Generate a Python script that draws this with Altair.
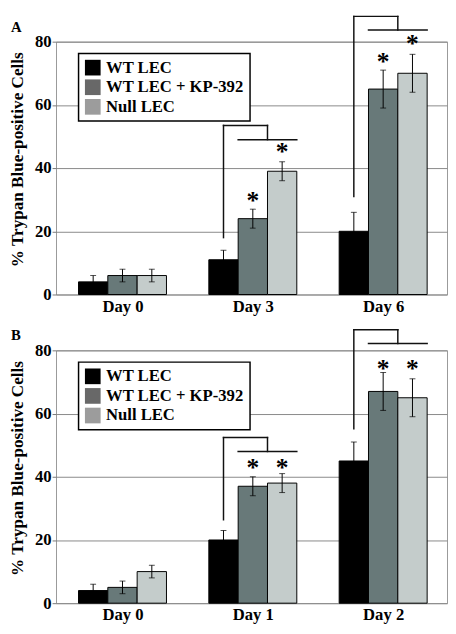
import altair as alt
import pandas as pd

SERIES = ["WT LEC", "WT LEC + KP-392", "Null LEC"]
BAR_COLORS = ["#000000", "#687979", "#c4cccb"]
LEGEND_COLORS = ["#000000", "#686868", "#9c9c9c"]

# ---- Panel A ----
days_a = ["Day 0", "Day 3", "Day 6"]
wt_a = [4, 11, 20]
kp_a = [6, 24, 65]
null_a = [6, 39, 70]
wt_err_a = [2, 3, 6]
kp_err_a = [2, 3, 6]
null_err_a = [2, 3, 6]
star_day_a = [1, 1, 2, 2]
star_series_a = [1, 2, 1, 2]
star_y_a = [31, 46.5, 75, 80.5]
bracket_day_a = [1, 2]
bracket_low_a = [18, 31]
bracket_top_a = [53.5, 88]
bracket_drop_a = [49, 83.7]

# ---- Panel B ----
days_b = ["Day 0", "Day 1", "Day 2"]
wt_b = [4, 20, 45]
kp_b = [5, 37, 67]
null_b = [10, 38, 65]
wt_err_b = [2, 3, 6]
kp_err_b = [2, 3, 6]
null_err_b = [2, 3, 6]
star_day_b = [1, 1, 2, 2]
star_series_b = [1, 2, 1, 2]
star_y_b = [44, 44, 75.5, 75.5]
bracket_day_b = [1, 2]
bracket_low_b = [26.4, 55.2]
bracket_top_b = [52.4, 86.5]
bracket_drop_b = [48, 82.2]

W = 0.225  # bar width in group units
FONT = "Liberation Serif"
H = 258
WIDTH = 399
XDOM = [-0.51, 2.49]


def panel(letter, letter_y, days, vals, errs, star_day, star_series, star_y,
          b_day, b_low, b_top, b_drop):
    rows = []
    for k, s in enumerate(SERIES):
        for g in range(len(days)):
            c = g + (k - 1) * W
            v = vals[k][g]
            e = errs[k][g]
            rows.append(dict(series=s, bar_series=s, g=g, xc=c, xl=c - W / 2, xr=c + W / 2,
                             v=v, base=0, lo=v - e, hi=v + e))
    df = pd.DataFrame(rows)

    stars = pd.DataFrame(dict(
        x=[g + (k - 1) * W for g, k in zip(star_day, star_series)],
        y=star_y, t=["*"] * len(star_y)))

    segs = []
    for g, lo, top, drop in zip(b_day, b_low, b_top, b_drop):
        segs.append(dict(x=g - W, x2=g - W, y=lo, y2=top))
        segs.append(dict(x=g - W, x2=g + W / 2, y=top, y2=top))
        segs.append(dict(x=g + W / 2, x2=g + W / 2, y=top, y2=drop))
        segs.append(dict(x=g - W / 2, x2=g + 1.5 * W, y=drop, y2=drop))
    segs = pd.DataFrame(segs)

    xscale = alt.Scale(domain=XDOM, nice=False, zero=False)
    yscale = alt.Scale(domain=[0, 80], nice=False)
    xaxis = alt.Axis(values=[0, 1, 2], title=None, grid=False, ticks=False,
                     domain=False, labelPadding=4,
                     labelExpr="[%s][datum.value]" % ",".join("'%s'" % d for d in days))
    yaxis = alt.Axis(values=list(range(0, 81, 10)), title="% Trypan Blue-positive Cells",
                     labelExpr="datum.value % 20 === 0 ? datum.label : ''",
                     tickOpacity={"condition": {"test": "datum.value % 20 === 0", "value": 1}, "value": 0},
                     tickSize=4, domain=False, labelPadding=1,
                     titleX=-30, titleY=H / 2 - 9)

    bars = alt.Chart(df).mark_bar(stroke="black", strokeWidth=1).encode(
        x=alt.X("xl:Q", scale=xscale, axis=xaxis),
        x2="xr:Q",
        y=alt.Y("v:Q", scale=yscale, axis=yaxis),
        y2="base:Q",
        fill=alt.Fill("bar_series:N", sort=SERIES, scale=alt.Scale(range=BAR_COLORS), legend=None),
    )
    legend_carrier = alt.Chart(df).mark_square(size=0, opacity=1, filled=True).encode(
        x=alt.X("xc:Q", scale=xscale),
        y=alt.Y("v:Q", scale=yscale),
        color=alt.Color("series:N", scale=alt.Scale(domain=SERIES, range=LEGEND_COLORS),
                        legend=alt.Legend(title=None, orient="none", legendX=23, legendY=12,
                                          symbolType="square", symbolSize=256,
                                          symbolStrokeWidth=0, symbolOpacity=1,
                                          labelFont=FONT, labelFontWeight="bold",
                                          labelFontSize=17, labelColor="black",
                                          labelOffset=5, rowPadding=2, padding=6,
                                          strokeColor="black", fillColor="white")),
    )
    err = alt.Chart(df).mark_rule(color="black", strokeWidth=1).encode(
        x=alt.X("xc:Q", scale=xscale), y=alt.Y("lo:Q", scale=yscale), y2="hi:Q")
    cap_hi = alt.Chart(df).mark_tick(color="black", orient="horizontal", size=6, thickness=1).encode(
        x=alt.X("xc:Q", scale=xscale), y=alt.Y("hi:Q", scale=yscale))
    cap_lo = alt.Chart(df).mark_tick(color="black", orient="horizontal", size=6, thickness=1).encode(
        x=alt.X("xc:Q", scale=xscale), y=alt.Y("lo:Q", scale=yscale))
    star = alt.Chart(stars).mark_text(font=FONT, fontWeight="bold", fontSize=26,
                                      baseline="alphabetic", dy=12.5, color="black").encode(
        x=alt.X("x:Q", scale=xscale), y=alt.Y("y:Q", scale=yscale), text="t:N")
    brackets = alt.Chart(segs).mark_rule(color="#111", strokeWidth=1.5, strokeCap="square").encode(
        x=alt.X("x:Q", scale=xscale), x2="x2:Q",
        y=alt.Y("y:Q", scale=yscale), y2="y2:Q")
    lab = alt.Chart(pd.DataFrame({"t": [letter]})).mark_text(
        font=FONT, fontWeight="bold", fontSize=15, align="left", baseline="alphabetic",
        color="black").encode(x=alt.value(-46), y=alt.value(letter_y), text="t:N")

    return alt.layer(bars, legend_carrier, err, cap_hi, cap_lo, star, brackets, lab).properties(
        width=WIDTH, height=H)


pa = panel("A", -10, days_a, [wt_a, kp_a, null_a], [wt_err_a, kp_err_a, null_err_a],
           star_day_a, star_series_a, star_y_a,
           bracket_day_a, bracket_low_a, bracket_top_a, bracket_drop_a)
pb = panel("B", -11, days_b, [wt_b, kp_b, null_b], [wt_err_b, kp_err_b, null_err_b],
           star_day_b, star_series_b, star_y_b,
           bracket_day_b, bracket_low_b, bracket_top_b, bracket_drop_b)

chart = alt.vconcat(pa, pb, spacing=12).resolve_scale(
    color="independent", fill="independent", x="independent", y="independent"
).properties(padding=0).configure_view(stroke="#999", strokeWidth=1).configure_axis(
    labelFont=FONT, labelFontWeight="bold", labelFontSize=17, labelColor="black",
    titleFont=FONT, titleFontWeight="bold", titleFontSize=17.5, titleColor="black",
    gridColor="#888", gridWidth=1, tickColor="#777",
).configure_legend(strokeWidth=1.5)

chart.save("out.html", embed_options={"renderer": "svg", "actions": False})
